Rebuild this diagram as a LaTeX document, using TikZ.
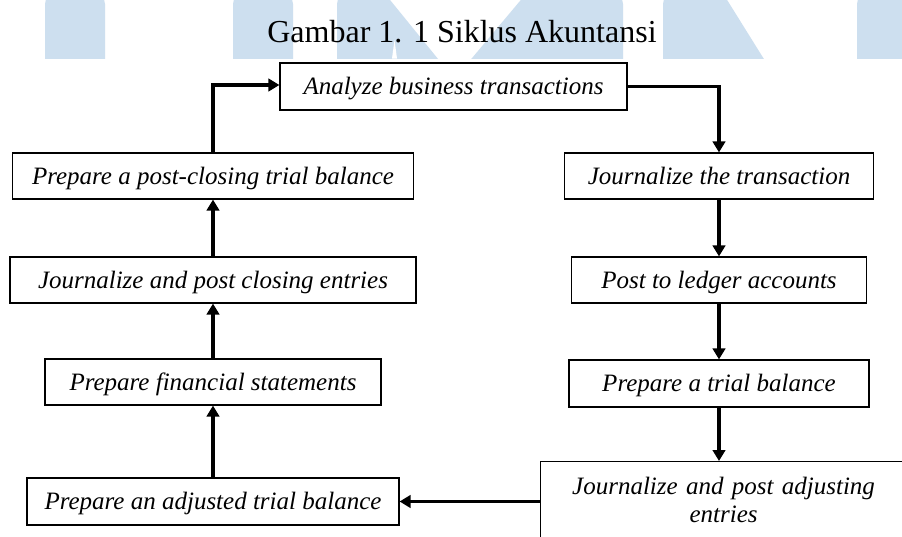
\documentclass[tikz,border=0pt]{standalone}
\usepackage{fontspec}
\setmainfont{Liberation Serif}
\usetikzlibrary{arrows.meta}
\definecolor{wmblue}{RGB}{205,223,239}
\begin{document}
\begin{tikzpicture}[x=1pt,y=-1pt,
  box/.style={draw=black,line width=1.2pt,inner sep=0pt,
    font=\itshape\fontsize{25}{28}\selectfont,
    text height=16.5pt,text depth=0pt,minimum height=46pt},
  arr/.style={line width=3.5pt,-{Triangle[length=11pt,width=12.5pt]}},
  wm/.style={fill=wmblue,rounded corners=9pt}]
\useasboundingbox (0,0) rectangle (902,536);
\clip (0,0) rectangle (902,536);
\fill[white] (0,0) rectangle (902,536);
% watermark
\begin{scope}
  \clip (0,-20) rectangle (902,58);
  \fill[wm] (45,80) -- (45,-5) -- (105,-5) -- (105,80) -- cycle;
  \fill[wm] (233,80) -- (233,-5) -- (293,-5) -- (293,80) -- cycle;
  \fill[wmblue] (337,80) [rounded corners=9pt] -- (337,-5) [sharp corners] -- (386,-5) -- (447,70) -- (337,70) -- cycle;
  \fill[white] (392,58.5) -- (394.5,40) -- (397,58.5) -- cycle;
  \fill[wmblue] (462,70) -- (525,-5) [rounded corners=9pt] -- (623,-5) [sharp corners] -- (623,80) -- (462,80) -- cycle;
  \fill[wmblue] (663,80) [rounded corners=9pt] -- (663,-5) [sharp corners] -- (724,-5) -- (777,80) -- cycle;
  \fill[wmblue] (857,80) [rounded corners=9pt] -- (857,-5) [sharp corners] -- (910,-5) -- (910,80) -- cycle;
\end{scope}
% title
\node[anchor=base,font=\fontsize{32}{36}\selectfont,inner sep=0pt] (title) at (462,42) {Gambar 1. 1 Siklus Akuntansi};
% boxes
\node[box,minimum width=347pt,minimum height=47pt] (ana) at (453.5,86.5) {Analyze business transactions};
\node[box,minimum width=309pt] (jt) at (719,176) {Journalize the transaction};
\node[box,minimum width=295pt] (pl) at (719,280) {Post to ledger accounts};
\node[box,minimum width=300pt,minimum height=47pt] (tb) at (719,383.5) {Prepare a trial balance};
\node[draw=black,line width=1.2pt,anchor=north west,inner xsep=0pt,inner ysep=15.5pt,
  text width=366pt,align=center,font=\itshape\fontsize{25}{28}\selectfont] (adj) at (540,461)
  {Journalize and post adjusting\\entries};
\node[box,minimum width=401pt] (pc) at (213,176) {Prepare a post-closing trial balance};
\node[box,minimum width=406pt] (jc) at (213,280) {Journalize and post closing entries};
\node[box,minimum width=336pt] (fs) at (213,382) {Prepare financial statements};
\node[box,minimum width=372pt,minimum height=47pt] (atb) at (213,501.5) {Prepare an adjusted trial balance};
% connectors
\draw[arr] (ana.east) -| (jt.north);
\draw[arr] (jt.south) -- (pl.north);
\draw[arr] (pl.south) -- (tb.north);
\draw[arr] (tb.south) -- (tb.south |- adj.north);
\draw[arr] (atb.east -| adj.west) -- (atb.east);
\draw[arr] (atb.north) -- (fs.south);
\draw[arr] (fs.north) -- (jc.south);
\draw[arr] (jc.north) -- (pc.south);
\draw[arr] (pc.north) |- ([yshift=1.5pt]ana.west);
\end{tikzpicture}
\end{document}
